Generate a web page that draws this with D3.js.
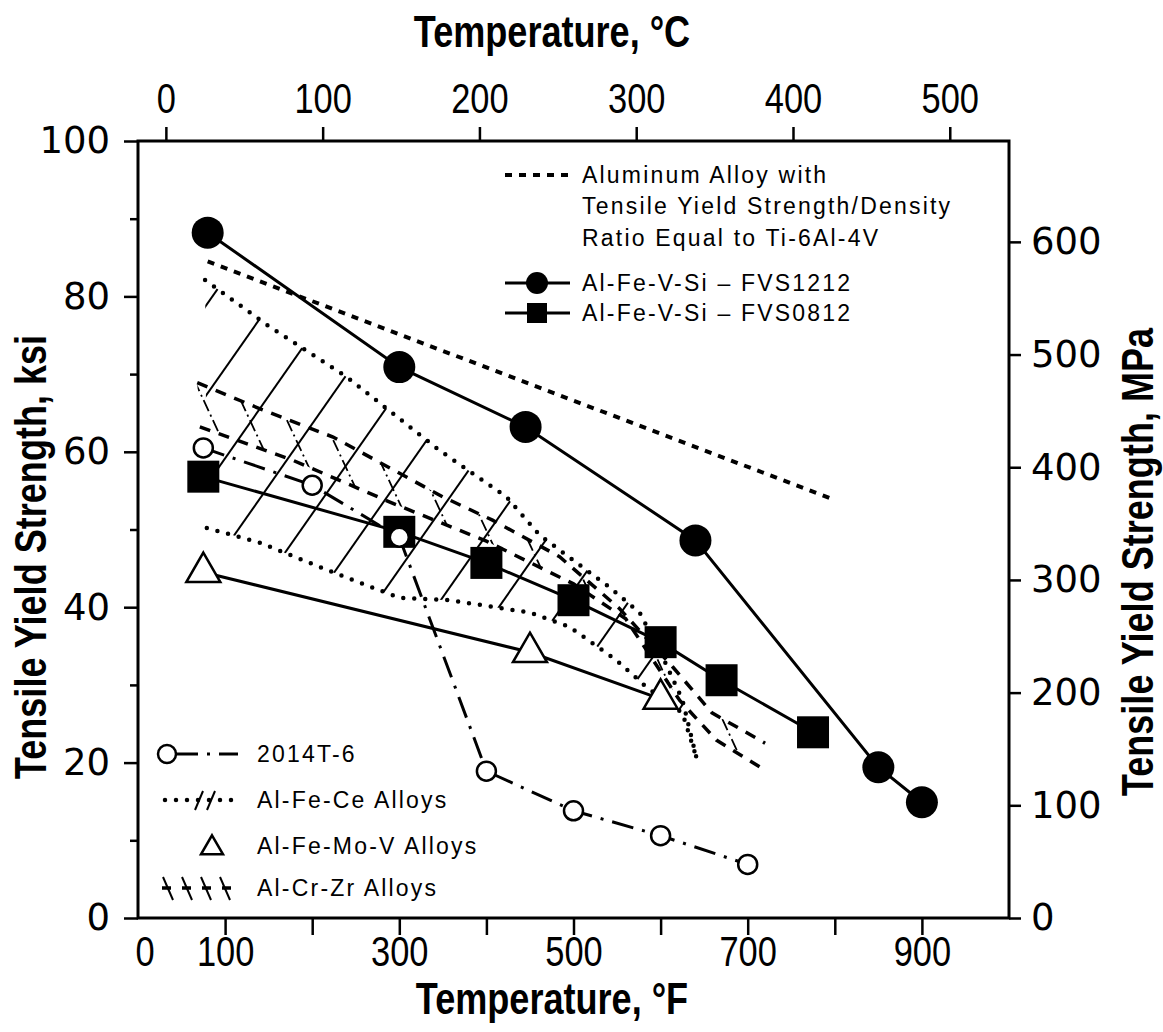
<!DOCTYPE html>
<html><head><meta charset="utf-8">
<script src="https://cdn.jsdelivr.net/npm/d3@7"></script>
<style>
body{margin:0;background:#fff}
svg{display:block;background:#fff}
</style></head><body>
<svg id="chart" width="1163" height="1032"></svg>
<script>
// Temperatures in °F, strengths in ksi
const fvs1212 = [[80,88.2],[300,70.9],[445,63.2],[640,48.6],[850,19.4],[900,14.9]];
const fvs0812 = [[75,56.8],[300,49.7],[400,45.7],[500,40.9],[600,35.5],[670,30.6],[775,23.9]];
const al2014T6 = [[75,60.5],[200,55.7],[300,49.0],[400,18.9],[500,13.8],[600,10.6],[700,6.9]];
const alFeMoV = [[75,44.5],[450,34.2],[600,28.2]];
const tiEquivalent = [[80,84.5],[800,53.8]];

// Scatter bands (upper and lower bounds)
const alFeCeUpper = [[77,82.1],[151,76.1],[240,69.6],[346,60.2],[423,54.2],[461,49.3],[499,46.1],[541,42.6],[576,39.3],[604,33.2],[625,28.1],[641,20.7]];
const alFeCeLower = [[79,50.2],[140,48.3],[217,44.8],[300,41.2],[358,40.9],[450,39.3],[495,37.5],[549,33.2],[584,29.7],[625,26.4],[641,20.7]];
const alCrZrUpper = [[68,68.9],[143,65.4],[224,61.9],[350,54.2],[407,51.2],[484,46.5],[553,39.8],[614,32.3],[659,26.4],[720,22.5]];
const alCrZrLower = [[71,63.2],[178,58.9],[292,53.4],[400,48.5],[500,43.0],[560,38.5],[622,28.0],[664,22.9],[716,19.3]];

// Axis ticks
const fTicks = [100,200,300,400,500,600,700,800,900];
const fLabels = [0,100,300,500,700,900];
const cTicks = [0,100,200,300,400,500];
const ksiTicks = [0,20,40,60,80,100];
const ksiMinor = [10,30,50,70,90];
const mpaTicks = [0,100,200,300,400,500,600];
const KSI_TO_MPA = 6.895;

const svg = d3.select("#chart");
const L = 138, R = 1009, T = 141, B = 918;
const x = d3.scaleLinear([0,1000],[L,R]);
const y = d3.scaleLinear([0,100],[B,T]);
const xC = d3.scaleLinear([(0-32)/1.8,(1000-32)/1.8],[L,R]);
const yM = d3.scaleLinear([0,100*KSI_TO_MPA],[B,T]);

const sans = "'Liberation Sans',Arial,sans-serif";
const wide = "'DejaVu Sans',sans-serif";
const SQUEEZE = "scale(0.82,1)";   // condensed look for temperature labels and titles

const line = d3.line().x(d=>x(d[0])).y(d=>y(d[1]));
const defs = svg.append("defs");
function styled(sel, st){ Object.entries(st).forEach(([k,v])=>sel.attr(k,v)); return sel; }

// ---------- Band clip regions
function bandPath(up, lo){ return line(up.concat(lo.slice().reverse())) + "Z"; }
defs.append("clipPath").attr("id","clipFeCe").append("path").attr("d", bandPath(alFeCeUpper, alFeCeLower));
defs.append("clipPath").attr("id","clipCrZr").append("path").attr("d", bandPath(alCrZrUpper, alCrZrLower));

// Al-Fe-Ce: "/" hatching
const hatchFeCe = svg.append("g").attr("clip-path","url(#clipFeCe)");
const cot55 = 1/Math.tan(55*Math.PI/180);
for (let c = 420; c < 1400; c += 63) {
  hatchFeCe.append("line")
    .attr("x1", c - B*cot55).attr("y1", B)
    .attr("x2", c - T*cot55).attr("y2", T)
    .attr("stroke","#000").attr("stroke-width",2);
}
// Al-Cr-Zr: "\" hatching
const hatchCrZr = svg.append("g").attr("clip-path","url(#clipCrZr)");
const cot65 = 1/Math.tan(65*Math.PI/180);
for (let c = -20; c < 800; c += 37) {
  hatchCrZr.append("line")
    .attr("x1", c + T*cot65).attr("y1", T)
    .attr("x2", c + B*cot65).attr("y2", B)
    .attr("stroke","#000").attr("stroke-width",1.8)
    .attr("stroke-dasharray","12,4,2,4");
}

const dotted = {stroke:"#000","stroke-width":4.5,"stroke-linecap":"round","stroke-dasharray":"0,11",fill:"none"};
const dashedCrZr = {stroke:"#000","stroke-width":3.5,"stroke-dasharray":"11,9",fill:"none"};

[alFeCeUpper, alFeCeLower].forEach(d => styled(svg.append("path").attr("d", line(d)), dotted));
[alCrZrUpper, alCrZrLower].forEach(d => styled(svg.append("path").attr("d", line(d)), dashedCrZr));

// ---------- Reference line: same strength/density as Ti-6Al-4V
const tiStyle = {stroke:"#000","stroke-width":4,"stroke-dasharray":"7,7",fill:"none"};
styled(svg.append("path").attr("d", line(tiEquivalent)), tiStyle);

// ---------- Series lines
const solid = {stroke:"#000","stroke-width":3,fill:"none"};
const dashDot = {stroke:"#000","stroke-width":3,"stroke-dasharray":"22,9,3,9",fill:"none"};
styled(svg.append("path").attr("d", line(fvs1212)), solid);
styled(svg.append("path").attr("d", line(fvs0812)), solid);
styled(svg.append("path").attr("d", line(alFeMoV)), solid);
styled(svg.append("path").attr("d", line(al2014T6)), dashDot);

// ---------- Markers
const triPath = (cx, cy, s) => {
  const h = s*Math.sqrt(3)/2;
  return `M${cx},${cy-h*2/3}L${cx+s/2},${cy+h/3}L${cx-s/2},${cy+h/3}Z`;
};
svg.append("g").selectAll("path").data(alFeMoV).join("path")
  .attr("d", d => triPath(x(d[0]), y(d[1]), 34))
  .attr("fill","#fff").attr("stroke","#000").attr("stroke-width",2.5);
svg.append("g").selectAll("rect").data(fvs0812).join("rect")
  .attr("x", d => x(d[0])-16).attr("y", d => y(d[1])-16)
  .attr("width",32).attr("height",32).attr("fill","#000");
svg.append("g").selectAll("circle").data(fvs1212).join("circle")
  .attr("cx", d => x(d[0])).attr("cy", d => y(d[1])).attr("r",16).attr("fill","#000");
svg.append("g").selectAll("circle").data(al2014T6).join("circle")
  .attr("cx", d => x(d[0])).attr("cy", d => y(d[1])).attr("r",9.5)
  .attr("fill","#fff").attr("stroke","#000").attr("stroke-width",2.5);

// ---------- Frame
svg.append("rect").attr("x",L).attr("y",T).attr("width",R-L).attr("height",B-T)
  .attr("fill","none").attr("stroke","#000").attr("stroke-width",3);

// ---------- Axes
function styleAxis(g, font, size, squeeze){
  g.select(".domain").remove();
  g.selectAll(".tick line").attr("stroke","#000").attr("stroke-width",2.5);
  const t = g.selectAll(".tick text").attr("font-family",font).attr("font-size",size).attr("fill","#000");
  if (squeeze) t.attr("transform", SQUEEZE);
}
const gB = svg.append("g").attr("transform",`translate(0,${B})`)
  .call(d3.axisBottom(x).tickValues(fTicks).tickSize(17).tickPadding(1)
    .tickFormat(d => fLabels.includes(d) ? d : ""));
styleAxis(gB, sans, 42, true);
svg.append("text").attr("transform",`translate(${x(0)+7},${B+18}) ${SQUEEZE}`).attr("dy","0.71em")
  .attr("text-anchor","middle").attr("font-family",sans).attr("font-size",42).text(fLabels[0]);

const gT = svg.append("g").attr("transform",`translate(0,${T})`)
  .call(d3.axisTop(xC).tickValues(cTicks).tickSize(14).tickPadding(14));
styleAxis(gT, sans, 42, true);

const gL = svg.append("g").attr("transform",`translate(${L},0)`)
  .call(d3.axisLeft(y).tickValues(ksiTicks).tickSize(14).tickPadding(14));
styleAxis(gL, wide, 37, false);
const gLm = svg.append("g").attr("transform",`translate(${L},0)`)
  .call(d3.axisLeft(y).tickValues(ksiMinor).tickSize(8).tickFormat(""));
styleAxis(gLm, wide, 37, false);

const gR = svg.append("g").attr("transform",`translate(${R},0)`)
  .call(d3.axisRight(yM).tickValues(mpaTicks).tickSize(12).tickPadding(10));
styleAxis(gR, wide, 37, false);

// ---------- Axis titles
const titleFont = {"font-family":sans,"font-size":44,"font-weight":"bold","fill":"#000","text-anchor":"middle"};
styled(svg.append("text").attr("transform",`translate(552,47) ${SQUEEZE}`), titleFont).text("Temperature, °C");
styled(svg.append("text").attr("transform",`translate(552,1014) ${SQUEEZE}`), titleFont).text("Temperature, °F");
styled(svg.append("text").attr("transform",`translate(31,557) rotate(-90) ${SQUEEZE}`)
  .attr("dominant-baseline","central"), titleFont).text("Tensile Yield Strength, ksi");
styled(svg.append("text").attr("transform",`translate(1138,562) rotate(-90) ${SQUEEZE}`)
  .attr("dominant-baseline","central"), titleFont).text("Tensile Yield Strength, MPa");

// ---------- Legends
const legFont = {"font-family":sans,"font-size":23,"letter-spacing":"2.2px","fill":"#000","dominant-baseline":"central"};
const lt = (tx, ty, s) => styled(svg.append("text").attr("x",tx).attr("y",ty), legFont).text(s);

// upper right
styled(svg.append("line").attr("x1",505).attr("x2",570).attr("y1",175).attr("y2",175), tiStyle);
lt(582,175,"Aluminum Alloy with");
lt(582,206,"Tensile Yield Strength/Density");
lt(582,238,"Ratio Equal to Ti-6Al-4V");
styled(svg.append("line").attr("x1",505).attr("x2",570).attr("y1",283).attr("y2",283), solid);
svg.append("circle").attr("cx",537).attr("cy",283).attr("r",11).attr("fill","#000");
lt(582,283,"Al-Fe-V-Si – FVS1212");
styled(svg.append("line").attr("x1",505).attr("x2",570).attr("y1",313).attr("y2",313), solid);
svg.append("rect").attr("x",527).attr("y",303).attr("width",20).attr("height",20).attr("fill","#000");
lt(582,313,"Al-Fe-V-Si – FVS0812");

// lower left
styled(svg.append("line").attr("x1",176).attr("x2",238).attr("y1",754).attr("y2",754), dashDot);
svg.append("circle").attr("cx",167).attr("cy",754).attr("r",9).attr("fill","#fff").attr("stroke","#000").attr("stroke-width",2.5);
lt(257,754,"2014T-6");

styled(svg.append("line").attr("x1",165).attr("x2",238).attr("y1",800).attr("y2",800), dotted);
[199,211].forEach(px => svg.append("line").attr("x1",px-4).attr("y1",810).attr("x2",px+4).attr("y2",791)
  .attr("stroke","#000").attr("stroke-width",2));
lt(257,800,"Al-Fe-Ce Alloys");

svg.append("path").attr("d", triPath(212, 848, 22)).attr("fill","#fff").attr("stroke","#000").attr("stroke-width",2.5);
lt(257,846,"Al-Fe-Mo-V Alloys");

styled(svg.append("line").attr("x1",162).attr("x2",238).attr("y1",888).attr("y2",888), dashedCrZr).attr("stroke-dasharray","9,11");
[167,186,205,224].forEach(px => svg.append("line").attr("x1",px-4).attr("y1",877).attr("x2",px+6).attr("y2",900)
  .attr("stroke","#000").attr("stroke-width",2));
lt(257,888,"Al-Cr-Zr Alloys");
</script>
</body></html>
